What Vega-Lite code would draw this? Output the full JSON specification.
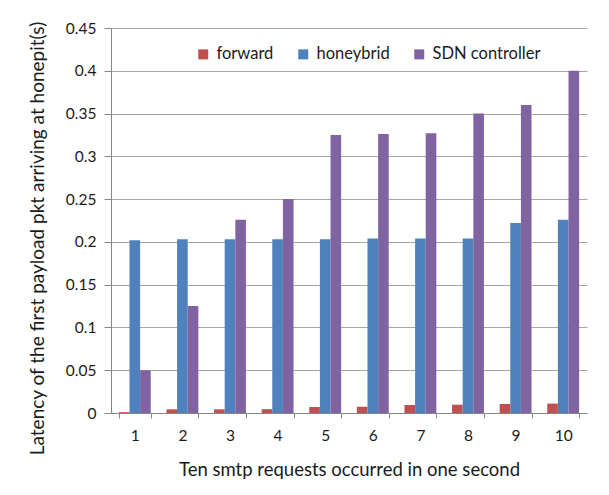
{
  "$schema": "https://vega.github.io/schema/vega-lite/v6.json",
  "width": 476,
  "height": 385,
  "autosize": {"type": "none"},
  "padding": {"left": 111, "top": 28, "right": 22, "bottom": 82},
  "background": "white",
  "data": {"values": [
    {"req": 1, "series": "forward", "value": 0.001},
    {"req": 2, "series": "forward", "value": 0.0043},
    {"req": 3, "series": "forward", "value": 0.0043},
    {"req": 4, "series": "forward", "value": 0.0045},
    {"req": 5, "series": "forward", "value": 0.007},
    {"req": 6, "series": "forward", "value": 0.0072},
    {"req": 7, "series": "forward", "value": 0.0094},
    {"req": 8, "series": "forward", "value": 0.0097},
    {"req": 9, "series": "forward", "value": 0.0105},
    {"req": 10, "series": "forward", "value": 0.011},
    {"req": 1, "series": "honeybrid", "value": 0.202},
    {"req": 2, "series": "honeybrid", "value": 0.203},
    {"req": 3, "series": "honeybrid", "value": 0.203},
    {"req": 4, "series": "honeybrid", "value": 0.203},
    {"req": 5, "series": "honeybrid", "value": 0.203},
    {"req": 6, "series": "honeybrid", "value": 0.204},
    {"req": 7, "series": "honeybrid", "value": 0.204},
    {"req": 8, "series": "honeybrid", "value": 0.204},
    {"req": 9, "series": "honeybrid", "value": 0.222},
    {"req": 10, "series": "honeybrid", "value": 0.226},
    {"req": 1, "series": "SDN controller", "value": 0.05},
    {"req": 2, "series": "SDN controller", "value": 0.125},
    {"req": 3, "series": "SDN controller", "value": 0.226},
    {"req": 4, "series": "SDN controller", "value": 0.25},
    {"req": 5, "series": "SDN controller", "value": 0.325},
    {"req": 6, "series": "SDN controller", "value": 0.326},
    {"req": 7, "series": "SDN controller", "value": 0.327},
    {"req": 8, "series": "SDN controller", "value": 0.35},
    {"req": 9, "series": "SDN controller", "value": 0.36},
    {"req": 10, "series": "SDN controller", "value": 0.4}
  ]},
  "mark": {"type": "bar"},
  "encoding": {
    "x": {
      "field": "req", "type": "ordinal",
      "scale": {"paddingInner": 0.33, "paddingOuter": 0.165},
      "axis": {
        "title": "Ten smtp requests occurred in one second",
        "labelAngle": 0,
        "tickBand": "extent",
        "domainColor": "#868686",
        "tickColor": "#868686",
        "tickSize": 5,
        "labelPadding": 10,
        "titlePadding": 17,
        "grid": false
      }
    },
    "xOffset": {
      "field": "series", "type": "nominal",
      "sort": ["forward", "honeybrid", "SDN controller"],
      "scale": {"paddingInner": 0, "paddingOuter": 0}
    },
    "y": {
      "field": "value", "type": "quantitative",
      "scale": {"domain": [0, 0.45], "nice": false},
      "axis": {
        "title": "Latency of the first payload pkt arriving at honepit(s)",
        "values": [0, 0.05, 0.1, 0.15, 0.2, 0.25, 0.3, 0.35, 0.4, 0.45],
        "format": "~g",
        "domainColor": "#868686",
        "tickColor": "#868686",
        "tickSize": 7,
        "labelPadding": 8,
        "gridColor": "#a6a6a6",
        "titlePadding": 18,
        "titleFontSize": 19,
        "titleY": 210
      }
    },
    "color": {
      "field": "series", "type": "nominal",
      "sort": ["forward", "honeybrid", "SDN controller"],
      "scale": {"domain": ["forward", "honeybrid", "SDN controller"], "range": ["#C0504D", "#4F81BD", "#8064A2"]},
      "legend": {
        "title": null,
        "orient": "none",
        "direction": "horizontal",
        "legendX": 84,
        "legendY": 18,
        "symbolType": "square",
        "symbolSize": 100,
        "symbolStrokeWidth": 0,
        "symbolOpacity": 1,
        "columnPadding": 21,
        "labelOffset": 5,
        "labelFontSize": 16.5,
        "labelColor": "#1a1a1a"
      }
    }
  },
  "config": {
    "font": "Lato",
    "view": {"stroke": null},
    "axis": {
      "labelFont": "Lato",
      "titleFont": "Lato",
      "labelFontSize": 15.5,
      "titleFontSize": 18.5,
      "titleFontWeight": "normal",
      "labelColor": "#1a1a1a",
      "titleColor": "#1a1a1a"
    },
    "legend": {"labelFont": "Lato"}
  }
}
